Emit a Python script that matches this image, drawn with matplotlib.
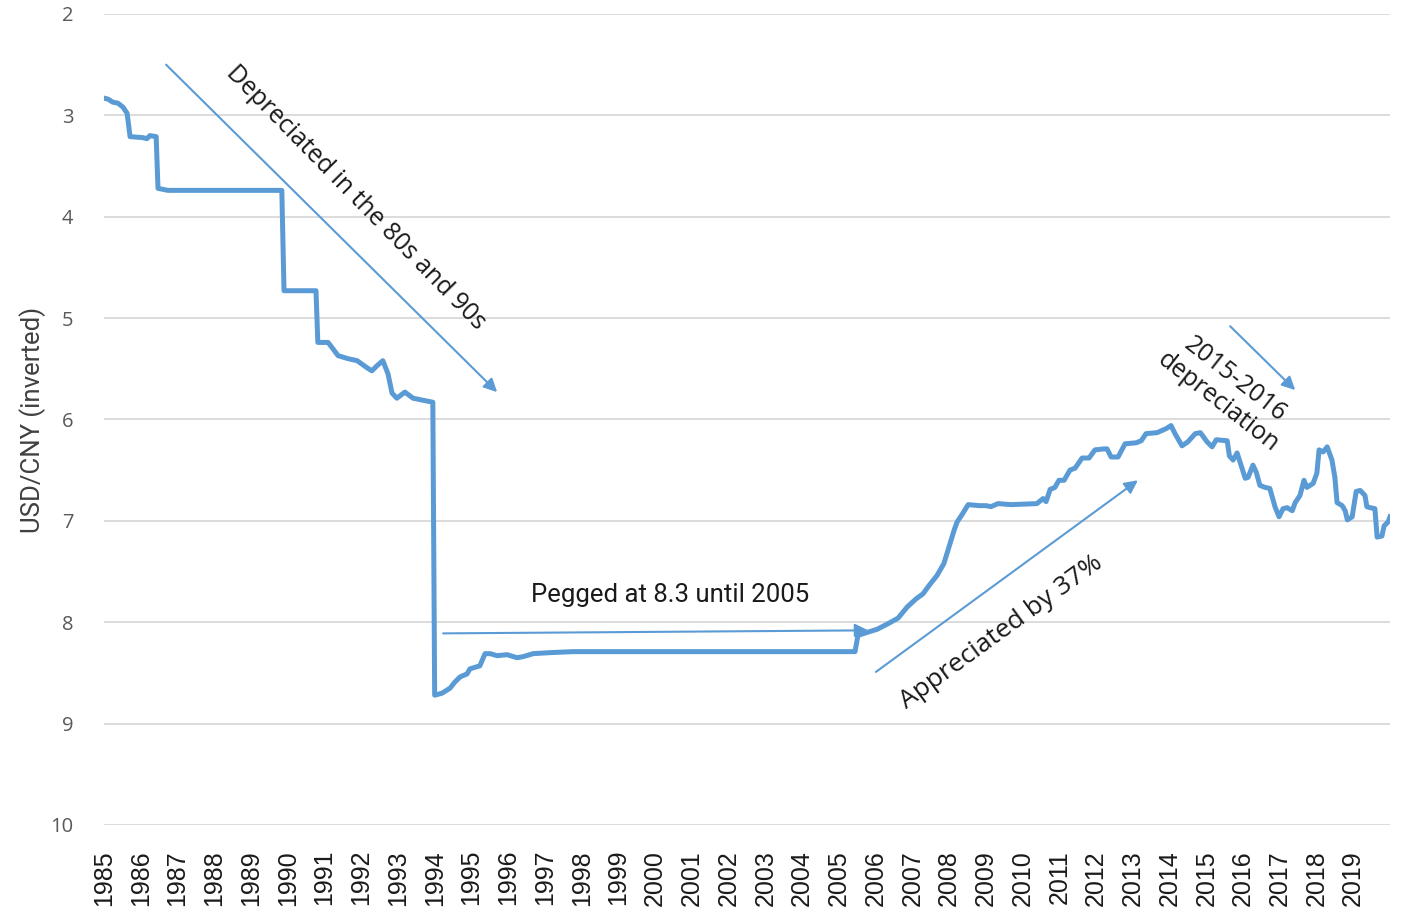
import matplotlib
matplotlib.use('Agg')
import matplotlib.pyplot as plt

# USD/CNY (decimal year, rate)
years = [1985.00, 1985.11, 1985.24, 1985.38, 1985.52, 1985.63, 1985.71, 1986.06, 1986.17, 1986.25,
         1986.42, 1986.47, 1986.74, 1989.84, 1989.90, 1990.77, 1990.82, 1991.10, 1991.37, 1991.64,
         1991.89, 1992.16, 1992.29, 1992.43, 1992.59, 1992.73, 1992.84, 1992.97, 1993.19, 1993.41,
         1993.68, 1993.95, 1994.00, 1994.20, 1994.42, 1994.55, 1994.69, 1994.88, 1994.96, 1995.23,
         1995.37, 1995.51, 1995.70, 1995.97, 1996.24, 1996.40, 1996.68, 1997.14, 1997.77, 2005.44,
         2005.52, 2005.77, 2006.04, 2006.31, 2006.61, 2006.86, 2007.10, 2007.29, 2007.45, 2007.67,
         2007.86, 2007.97, 2008.14, 2008.22, 2008.35, 2008.52, 2008.82, 2009.01, 2009.14, 2009.33,
         2009.69, 2010.39, 2010.56, 2010.64, 2010.75, 2010.88, 2010.99, 2011.13, 2011.29, 2011.43,
         2011.62, 2011.81, 2011.97, 2012.22, 2012.30, 2012.41, 2012.60, 2012.79, 2013.09, 2013.23,
         2013.36, 2013.66, 2013.91, 2014.04, 2014.15, 2014.34, 2014.50, 2014.70, 2014.84, 2015.02,
         2015.16, 2015.27, 2015.57, 2015.63, 2015.73, 2015.84, 2016.06, 2016.14, 2016.27, 2016.36,
         2016.46, 2016.60, 2016.73, 2016.87, 2016.98, 2017.09, 2017.20, 2017.34, 2017.42, 2017.55,
         2017.66, 2017.74, 2017.91, 2018.01, 2018.07, 2018.18, 2018.29, 2018.42, 2018.50, 2018.56,
         2018.70, 2018.78, 2018.84, 2018.97, 2019.08, 2019.19, 2019.32, 2019.37, 2019.46, 2019.59,
         2019.65, 2019.78, 2019.84, 2019.95, 2020.00]
rate = [2.83, 2.84, 2.87, 2.88, 2.92, 2.98, 3.21, 3.22, 3.23, 3.20,
        3.21, 3.72, 3.74, 3.74, 4.73, 4.73, 5.24, 5.24, 5.37, 5.40,
        5.42, 5.49, 5.52, 5.47, 5.42, 5.55, 5.74, 5.79, 5.73, 5.79,
        5.81, 5.83, 8.72, 8.70, 8.65, 8.59, 8.54, 8.51, 8.46, 8.43,
        8.31, 8.31, 8.33, 8.32, 8.35, 8.34, 8.31, 8.30, 8.29, 8.29,
        8.13, 8.10, 8.07, 8.02, 7.96, 7.85, 7.77, 7.72, 7.64, 7.54,
        7.42, 7.29, 7.09, 7.01, 6.94, 6.84, 6.85, 6.85, 6.86, 6.83,
        6.84, 6.83, 6.78, 6.81, 6.69, 6.67, 6.60, 6.60, 6.50, 6.48,
        6.38, 6.38, 6.30, 6.29, 6.29, 6.37, 6.37, 6.24, 6.23, 6.21,
        6.14, 6.13, 6.09, 6.06, 6.14, 6.26, 6.22, 6.14, 6.13, 6.22,
        6.27, 6.20, 6.21, 6.36, 6.40, 6.33, 6.58, 6.57, 6.45, 6.52,
        6.65, 6.67, 6.68, 6.86, 6.96, 6.88, 6.87, 6.90, 6.82, 6.75,
        6.60, 6.67, 6.63, 6.53, 6.30, 6.32, 6.27, 6.40, 6.57, 6.82,
        6.85, 6.90, 6.99, 6.96, 6.71, 6.70, 6.75, 6.86, 6.87, 6.88,
        7.16, 7.15, 7.05, 7.01, 6.96]

tick_years = list(range(1985, 2020))
y_ticks = [2, 3, 4, 5, 6, 7, 8, 9, 10]

# annotation arrows: (start, end) in (year, rate)
arrows = [((1986.69, 2.50), (1995.70, 5.73)),
          ((1994.23, 8.11), (2005.80, 8.08)),
          ((2006.01, 8.49), (2013.14, 6.60)),
          ((2015.65, 5.08), (2017.42, 5.71))]
notes = [("Depreciated in the 80s and 90s", 1991.86, 3.81, -45.6, 18),
         ("Pegged at 8.3 until 2005", 2000.41, 7.73, 0, 18.5),
         ("Appreciated by 37%", 2009.41, 8.10, 36, 19),
         ("2015-2016\ndepreciation", 2015.55, 5.72, -38, 18)]

blue = '#5b9bd5'

fig = plt.figure(figsize=(14.09, 9.13), dpi=100)
ax = fig.add_axes([0.0738, 0.0964, 0.9127, 0.8883])

ax.plot(years, rate, color=blue, lw=3.6, solid_joinstyle='round', zorder=3)

for (x0, y0), (x1, y1) in arrows:
    ax.annotate('', xy=(x1, y1), xytext=(x0, y0),
                arrowprops=dict(arrowstyle='-|>', color=blue, lw=1.5,
                                mutation_scale=20, shrinkA=0, shrinkB=0))

for txt, x, y, rot, fs in notes:
    fam = ['Roboto'] if rot == 0 else ['Open Sans']
    ax.text(x, y, txt, rotation=rot, rotation_mode='anchor', ha='center', va='center',
            fontsize=fs, color='#1a1a1a', family=fam, linespacing=1.2)

ax.set_xlim(1985, 2020)
ax.set_ylim(10, 2)
ax.set_xticks(tick_years)
ax.set_xticklabels([str(y) for y in tick_years], rotation=90, fontsize=18,
                   family='Liberation Sans', color='#1a1a1a')
ax.set_yticks(y_ticks)
ax.set_yticklabels([str(v) for v in y_ticks], fontsize=14.5, family='Open Sans', color='#595959')
ax.tick_params(axis='both', length=0)
ax.tick_params(axis='x', pad=18)
ax.tick_params(axis='y', pad=22)
ax.yaxis.grid(True, color='#d9d9d9', lw=1.3)
ax.set_axisbelow(True)
for s in ax.spines.values():
    s.set_visible(False)

ax.set_ylabel('USD/CNY (inverted)', fontsize=18.5, family='Roboto',
              color='#404040', labelpad=3)

fig.savefig('out.png', dpi=100)
